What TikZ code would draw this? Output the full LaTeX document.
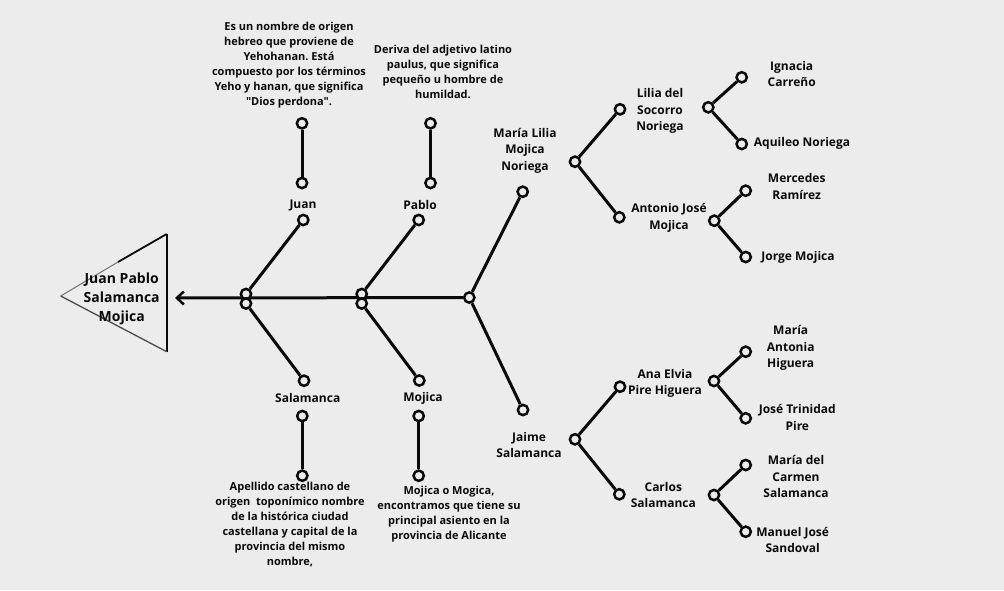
\documentclass[tikz,border=0pt]{standalone}
\usepackage{fontspec}
\setmainfont{Open Sans}[Ligatures=TeXOff]
\usetikzlibrary{arrows.meta}
\frenchspacing
\definecolor{bg}{RGB}{236,236,236}
\definecolor{ink}{RGB}{10,10,10}
\tikzset{
  dot/.style={circle, draw=ink, fill=bg, line width=2.5pt, minimum size=10.3pt, inner sep=0pt},
  link/.style={draw=ink, line width=3pt},
  desc/.style={align=center, font=\fontsize{11}{15}\selectfont\bfseries, text=ink, inner sep=0pt},
  lbl/.style={align=center, font=\fontsize{12}{16.7}\selectfont\bfseries, text=ink, inner sep=0pt},
  ttl/.style={align=center, font=\fontsize{14}{19}\selectfont\bfseries, text=ink, inner sep=0pt}
}
\begin{document}
\begin{tikzpicture}[x=1pt,y=-1pt]
\fill[bg] (0,0) rectangle (1004,590);
\useasboundingbox (0,0) rectangle (1004,590);
% triangle
\draw[black!55, line width=1pt] (60.7,296) -- (118,262);
\draw[ink, line width=1.8pt] (118,262) -- (166.7,234);
\draw[ink, line width=2pt] (166.7,234) -- (166.7,351.7);
\draw[black!70, line width=1.3pt] (166.7,351.7) -- (60.7,296);
\node[ttl] (title) at (121.7,298.5) {Juan Pablo\\Salamanca\\Mojica};
% dots
\node[dot] (m) at (469.3,297.5) {};
\coordinate (tip) at (175,298);
\draw[ink, line width=3pt, -{Straight Barb[length=7pt,width=13pt,line width=2.5pt]}] (m) -- (tip);
\node[dot] (j1a) at (246,294) {};
\node[dot] (j1b) at (246,303.5) {};
\node[dot] (j2a) at (361.7,294) {};
\node[dot] (j2b) at (361.7,303.5) {};
\node[dot] (cJuan) at (303.3,220) {};
\node[dot] (cPablo) at (418.7,220) {};
\node[dot] (cSal) at (304,380.7) {};
\node[dot] (cMoj) at (419.3,380.5) {};
\node[dot] (cML) at (522.7,191.7) {};
\node[dot] (cJaime) at (523,410) {};
\node[dot] (vJ1) at (302,123.3) {};
\node[dot] (vJ2) at (302,183) {};
\node[dot] (vP1) at (430.5,123.3) {};
\node[dot] (vP2) at (430.5,183) {};
\node[dot] (vS1) at (302.3,416) {};
\node[dot] (vS2) at (302.3,475.7) {};
\node[dot] (vM1) at (418.7,416) {};
\node[dot] (vM2) at (418.7,475.7) {};
\node[dot] (jML) at (575,161.7) {};
\node[dot] (cLilia) at (620,109.3) {};
\node[dot] (cAnt) at (619.3,217.3) {};
\node[dot] (jLilia) at (708.3,107.3) {};
\node[dot] (cIgn) at (741.7,77.3) {};
\node[dot] (cAqu) at (741.7,144) {};
\node[dot] (jAnt) at (714.3,220.7) {};
\node[dot] (cMer) at (745.7,190.7) {};
\node[dot] (cJor) at (745.7,257) {};
\node[dot] (jJaime) at (575,439.3) {};
\node[dot] (cAna) at (620,386.7) {};
\node[dot] (cCar) at (619.3,494.3) {};
\node[dot] (jAna) at (714,381) {};
\node[dot] (cMA) at (745.7,351.7) {};
\node[dot] (cJT) at (745.7,418.3) {};
\node[dot] (jCar) at (714,495) {};
\node[dot] (cMC) at (745.7,465) {};
\node[dot] (cMan) at (745.7,531.7) {};
% links
\foreach \a/\b in {j1a/cJuan, j1b/cSal, j2a/cPablo, j2b/cMoj, m/cML, m/cJaime,
  vJ1/vJ2, vP1/vP2, vS1/vS2, vM1/vM2, jML/cLilia, jML/cAnt, jLilia/cIgn, jLilia/cAqu,
  jAnt/cMer, jAnt/cJor, jJaime/cAna, jJaime/cCar, jAna/cMA, jAna/cJT, jCar/cMC, jCar/cMan}
  \path[link] (\a) -- (\b);
% descriptions
\node[desc] (dJuan) at (289,65.3) {Es un nombre de origen\\hebreo que proviene de\\Yehohanan. Está\\compuesto por los términos\\Yeho y hanan, que significa\\"Dios perdona".};
\node[desc] (dPablo) at (443,72.3) {Deriva del adjetivo latino\\paulus, que significa\\pequeño u hombre de\\humildad.};
\node[desc] (dSal) at (290,525) {Apellido castellano de\\origen\ \ toponímico nombre\\de la histórica ciudad\\castellana y capital de la\\provincia del mismo\\nombre,};
\node[desc] (dMoj) at (449,514) {Mojica o Mogica,\\encontramos que tiene su\\principal asiento en la\\provincia de Alicante};
% labels
\node[lbl] (lJuan) at (303,205) {Juan};
\node[lbl] (lPablo) at (420,205) {Pablo};
\node[lbl] (lSal) at (307.7,398) {Salamanca};
\node[lbl] (lMoj) at (423,398) {Mojica};
\node[lbl] (lML) at (525,150.7) {María Lilia\\Mojica\\Noriega};
\node[lbl] (lJaime) at (529,445) {Jaime\\Salamanca};
\node[lbl] (lLilia) at (660,111) {Lilia del\\Socorro\\Noriega};
\node[lbl] (lAnt) at (669,217.7) {Antonio José\\Mojica};
\node[lbl] (lAna) at (665,383.3) {Ana Elvia\\Pire Higuera};
\node[lbl] (lCar) at (663.3,495) {Carlos\\Salamanca};
\node[lbl] (lIgn) at (791.7,74) {Ignacia\\Carreño};
\node[lbl] (lAqu) at (802,143) {Aquileo Noriega};
\node[lbl] (lMer) at (796.7,186.7) {Mercedes\\Ramírez};
\node[lbl] (lJor) at (798,257) {Jorge Mojica};
\node[lbl] (lMA) at (790.7,348) {María\\Antonia\\Higuera};
\node[lbl] (lJT) at (797.3,417.5) {José Trinidad\\Pire};
\node[lbl] (lMC) at (796,476.7) {María del\\Carmen\\Salamanca};
\node[lbl] (lMan) at (792.7,540) {Manuel José\\Sandoval};
\end{tikzpicture}
\end{document}
